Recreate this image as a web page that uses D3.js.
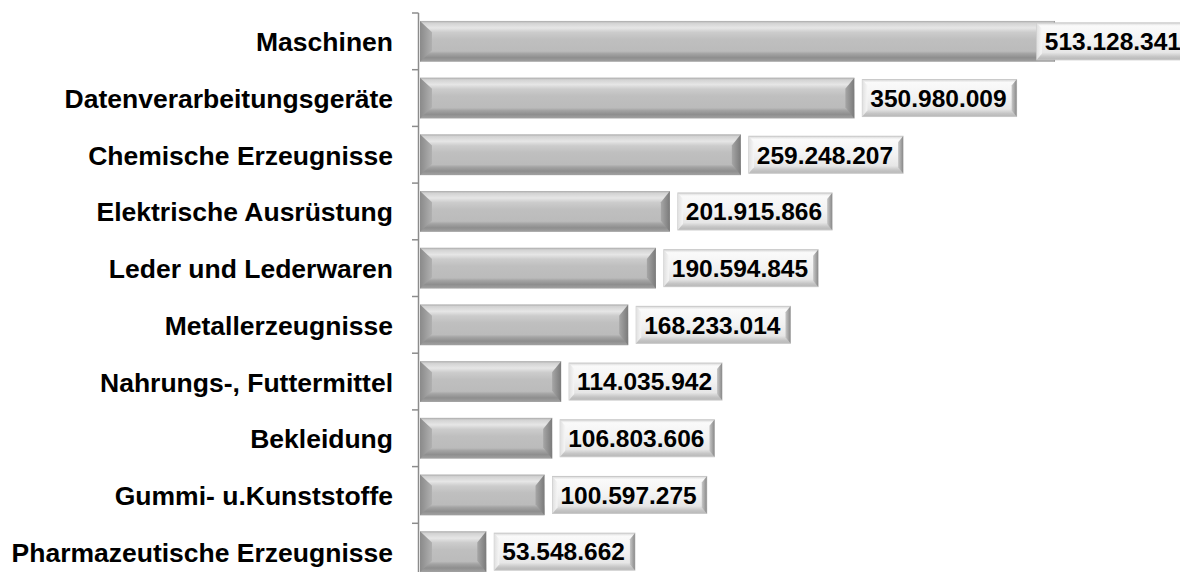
<!DOCTYPE html>
<html>
<head>
<meta charset="utf-8">
<script src="https://cdn.jsdelivr.net/npm/d3@7"></script>
<style>
  html, body { margin: 0; padding: 0; background: #fff; }
  svg { display: block; font-family: "Liberation Sans", Arial, sans-serif; }
</style>
</head>
<body>
<svg id="chart" width="1180" height="572"></svg>
<script>
const categories = [
  "Maschinen",
  "Datenverarbeitungsgeräte",
  "Chemische Erzeugnisse",
  "Elektrische Ausrüstung",
  "Leder und Lederwaren",
  "Metallerzeugnisse",
  "Nahrungs-, Futtermittel",
  "Bekleidung",
  "Gummi- u.Kunststoffe",
  "Pharmazeutische Erzeugnisse"
];
const values = [
  513128341, 350980009, 259248207, 201915866, 190594845,
  168233014, 114035942, 106803606, 100597275, 53548662
];

const W = 1180, H = 572;
const axisX = 418.5;
const x0 = 420;
const svg = d3.select("#chart");
const defs = svg.append("defs");

const de = d3.formatLocale({decimal: ",", thousands: ".", grouping: [3], currency: ["", "€"]});
const fmt = de.format(",d");

const x = d3.scaleLinear().domain([0, d3.max(values)]).range([x0, 1055]);
const y = d3.scaleBand().domain(categories).range([13, 580]).paddingInner(0.28).paddingOuter(0.14);

// gradients
function vgrad(id, stops) {
  const g = defs.append("linearGradient").attr("id", id).attr("x1", 0).attr("y1", 0).attr("x2", 0).attr("y2", 1);
  stops.forEach(s => g.append("stop").attr("offset", s[0]).attr("stop-color", s[1]));
}
function hgrad(id, stops) {
  const g = defs.append("linearGradient").attr("id", id).attr("x1", 0).attr("y1", 0).attr("x2", 1).attr("y2", 0);
  stops.forEach(s => g.append("stop").attr("offset", s[0]).attr("stop-color", s[1]));
}
vgrad("barFace", [[0, "#a8a8a8"], [0.05, "#d2d2d2"], [0.17, "#e6e6e6"], [0.28, "#cccccc"], [0.45, "#bfbfbf"], [0.74, "#bbbbbb"], [0.8, "#a4a4a4"], [0.9, "#8e8e8e"], [1, "#a2a2a2"]]);
hgrad("barLeft", [[0, "#8a8a8a"], [1, "#b0b0b0"]]);
hgrad("barRight", [[0, "#a6a6a6"], [1, "#7a7a7a"]]);
vgrad("boxFace", [[0, "#d8d8d8"], [0.08, "#fafafa"], [0.5, "#f2f2f2"], [0.8, "#e6e6e6"], [0.92, "#c4c4c4"], [1, "#b8b8b8"]]);
hgrad("boxLeft", [[0, "#e0e0e0"], [1, "#f6f6f6"]]);
hgrad("boxRight", [[0, "#c8c8c8"], [1, "#8a8a8a"]]);

// axis line & ticks
svg.append("line").attr("x1", axisX).attr("x2", axisX).attr("y1", y.range()[0]).attr("y2", y.range()[1])
  .attr("stroke", "#8c8c8c").attr("stroke-width", 1.5);
const tickYs = d3.range(categories.length + 1).map(i => y.range()[0] + i * y.step());
svg.selectAll("line.tick").data(tickYs).join("line").attr("class", "tick")
  .attr("x1", axisX - 6.5).attr("x2", axisX).attr("y1", d => d).attr("y2", d => d)
  .attr("stroke", "#8c8c8c").attr("stroke-width", 1.5);

// category labels
svg.selectAll("text.cat").data(categories).join("text").attr("class", "cat")
  .attr("x", 393).attr("y", d => y(d) + y.bandwidth() / 2 + 10)
  .attr("text-anchor", "end").attr("font-size", 26.5).attr("font-weight", "bold").attr("fill", "#000")
  .text(d => d);

// bars
const data = categories.map((c, i) => ({c, v: values[i]}));
const bars = svg.selectAll("g.bar").data(data).join("g").attr("class", "bar");
bars.each(function(d) {
  const g = d3.select(this);
  const xa = x(0), xb = x(d.v), ya = y(d.c), yb = ya + y.bandwidth();
  const b = Math.min(12, (xb - xa) / 2), bv = 7;
  g.append("rect").attr("x", xa).attr("y", ya).attr("width", xb - xa).attr("height", yb - ya).attr("fill", "url(#barFace)");
  g.append("polygon").attr("points", [[xa, ya], [xa + b, ya + bv * 1.6], [xa + b, yb - bv * 1.6], [xa, yb]].join(" ")).attr("fill", "url(#barLeft)");
  g.append("polygon").attr("points", [[xb, ya], [xb - 9, ya + bv * 1.6], [xb - 9, yb - bv * 1.6], [xb, yb]].join(" ")).attr("fill", "url(#barRight)");
});

// value labels
bars.each(function(d) {
  const g = d3.select(this);
  const cy = y(d.c) + y.bandwidth() / 2;
  const t = g.append("text").attr("font-size", 24.5).attr("font-weight", "bold").attr("fill", "#000").text(fmt(d.v));
  const tw = t.node().getComputedTextLength();
  const bw = tw + 18, bh = 37;
  let bx = x(d.v) + 8;
  if (bx + bw > W + 11) bx = W + 11 - bw;
  const by = cy - bh / 2;
  const box = g.insert("g", "text");
  box.append("rect").attr("x", bx).attr("y", by).attr("width", bw).attr("height", bh)
    .attr("fill", "url(#boxFace)").attr("stroke", "#c8c8c8").attr("stroke-width", 1);
  box.append("polygon").attr("points", [[bx, by], [bx + 5, by + 6], [bx + 5, by + bh - 6], [bx, by + bh]].join(" ")).attr("fill", "url(#boxLeft)");
  box.append("polygon").attr("points", [[bx + bw, by], [bx + bw - 5, by + 6], [bx + bw - 5, by + bh - 6], [bx + bw, by + bh]].join(" ")).attr("fill", "url(#boxRight)");
  t.attr("x", bx + 8).attr("y", cy + 8.8);
});
</script>
</body>
</html>
